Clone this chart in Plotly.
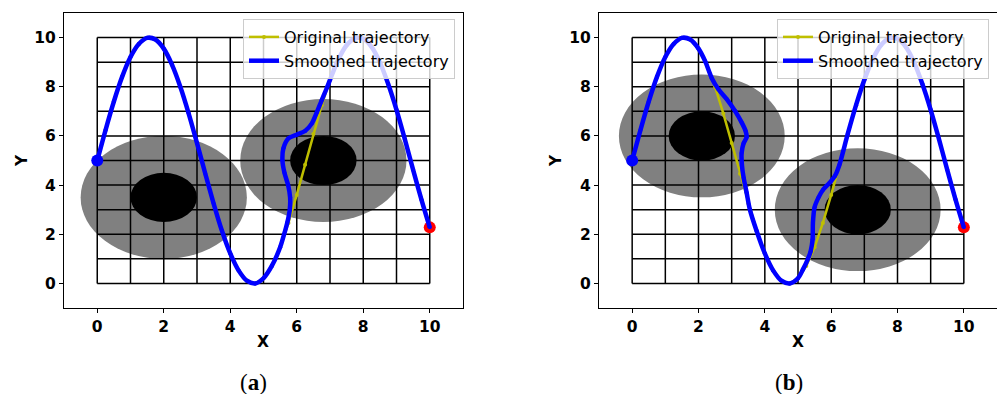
import plotly.graph_objects as go

# ---- data -------------------------------------------------------------
# planned path (same for both panels)
orig_x = [0.0, 0.25, 0.5, 0.75, 1.0, 1.25, 1.5, 1.75, 2.0, 2.25, 2.5, 2.75, 3.0,
          3.25, 3.5, 3.75, 4.0, 4.25, 4.5, 4.75, 5.0, 5.25, 5.5, 5.75, 6.0, 6.25,
          6.5, 6.75, 7.0, 7.25, 7.5, 7.75, 8.0, 8.25, 8.5, 8.75, 9.0, 9.25, 9.5,
          9.75, 10.0]
orig_y = [5.0, 6.24, 7.4, 8.41, 9.21, 9.74, 9.99, 9.92, 9.55, 8.89, 7.99, 6.91, 5.71,
          4.46, 3.25, 2.14, 1.22, 0.53, 0.11, 0.0, 0.21, 0.71, 1.47, 2.46, 3.6, 4.83,
          6.08, 7.25, 8.28, 9.11, 9.69, 9.97, 9.95, 9.62, 8.99, 8.11, 7.06, 5.87, 4.62,
          3.41, 2.28]

# smoothed path, panel (a)
smooth_a_x = [0.0, 0.25, 0.5, 0.75, 1.0, 1.25, 1.5, 1.75, 2.0, 2.25, 2.5, 2.75, 3.0,
              3.25, 3.5, 3.75, 4.0, 4.25, 4.5, 4.75, 5.0, 5.25, 5.5, 5.62, 5.72, 5.79,
              5.8, 5.74, 5.63, 5.57, 5.6, 5.75, 6.0, 6.25, 6.45, 6.6, 6.75, 6.92, 7.0,
              7.25, 7.5, 7.75, 8.0, 8.25, 8.5, 8.75, 9.0, 9.25, 9.5, 9.75, 10.0]
smooth_a_y = [5.0, 6.24, 7.4, 8.41, 9.21, 9.74, 9.99, 9.92, 9.55, 8.89, 7.99, 6.91, 5.71,
              4.46, 3.25, 2.14, 1.22, 0.53, 0.11, 0.0, 0.21, 0.71, 1.47, 2.0, 2.5, 3.0,
              3.5, 4.0, 4.5, 5.0, 5.5, 5.9, 6.05, 6.2, 6.5, 6.95, 7.45, 8.0, 8.28,
              9.11, 9.69, 9.97, 9.95, 9.62, 8.99, 8.11, 7.06, 5.87, 4.62, 3.41, 2.28]

# smoothed path, panel (b)
smooth_b_x = [0.0, 0.25, 0.5, 0.75, 1.0, 1.25, 1.5, 1.75, 2.0, 2.2, 2.4, 2.6, 2.85,
              3.1, 3.3, 3.42, 3.45, 3.36, 3.3, 3.31, 3.36, 3.45, 3.55, 3.75, 4.0, 4.25,
              4.5, 4.75, 5.0, 5.15, 5.3, 5.38, 5.44, 5.45, 5.5, 5.62, 5.75, 5.95, 6.11,
              6.25, 6.5, 6.75, 7.0, 7.25, 7.5, 7.75, 8.0, 8.25, 8.5, 8.75, 9.0, 9.25,
              9.5, 9.75, 10.0]
smooth_b_y = [5.0, 6.24, 7.4, 8.41, 9.21, 9.74, 9.99, 9.92, 9.55, 9.04, 8.35, 7.9, 7.5,
              7.02, 6.55, 6.2, 5.95, 5.7, 5.3, 4.8, 4.3, 3.7, 3.0, 2.14, 1.22, 0.53,
              0.11, 0.0, 0.21, 0.57, 1.0, 1.3, 1.8, 2.47, 3.1, 3.5, 3.8, 4.09, 4.36,
              4.83, 6.08, 7.25, 8.28, 9.11, 9.69, 9.97, 9.95, 9.62, 8.99, 8.11, 7.06, 5.87,
              4.62, 3.41, 2.28]

# obstacles: centre x, centre y (inner core radius / outer safety radius)
obst_a_cx = [2.0, 6.8]
obst_a_cy = [3.5, 5.0]
obst_b_cx = [2.1, 6.8]
obst_b_cy = [6.0, 3.0]
core_r = 1.0
zone_r = 2.5

grid_vals = list(range(0, 11))
tick_vals = [0, 2, 4, 6, 8, 10]
start_pt = (0.0, 5.0)
goal_pt = (10.0, 2.28)

# ---- figure -----------------------------------------------------------
W, H = 997, 394


def px(x):
    return x / W


def py(y):
    return 1 - y / H


fig = go.Figure()

panels = [
    dict(xa="x", ya="y", cx=obst_a_cx, cy=obst_a_cy, sx=smooth_a_x, sy=smooth_a_y,
         legend="legend"),
    dict(xa="x2", ya="y2", cx=obst_b_cx, cy=obst_b_cy, sx=smooth_b_x, sy=smooth_b_y,
         legend="legend2"),
]

shapes = []
for p in panels:
    # outer (grey) zones
    for cx, cy in zip(p["cx"], p["cy"]):
        shapes.append(dict(type="circle", xref=p["xa"], yref=p["ya"],
                           x0=cx - zone_r, x1=cx + zone_r, y0=cy - zone_r, y1=cy + zone_r,
                           fillcolor="#808080", line=dict(width=0), layer="below"))
    # map grid
    for g in grid_vals:
        shapes.append(dict(type="line", xref=p["xa"], yref=p["ya"], x0=g, x1=g,
                           y0=grid_vals[0], y1=grid_vals[-1],
                           line=dict(color="black", width=1.5), layer="below"))
        shapes.append(dict(type="line", xref=p["xa"], yref=p["ya"], y0=g, y1=g,
                           x0=grid_vals[0], x1=grid_vals[-1],
                           line=dict(color="black", width=1.5), layer="below"))
    # obstacle cores
    for cx, cy in zip(p["cx"], p["cy"]):
        shapes.append(dict(type="circle", xref=p["xa"], yref=p["ya"],
                           x0=cx - core_r, x1=cx + core_r, y0=cy - core_r, y1=cy + core_r,
                           fillcolor="black", line=dict(width=0), layer="below"))

    fig.add_trace(go.Scatter(x=orig_x, y=orig_y, xaxis=p["xa"], yaxis=p["ya"],
                             mode="lines+markers", name="Original trajectory",
                             line=dict(color="#bfbf00", width=2.5),
                             marker=dict(size=4, color="#bfbf00"),
                             legend=p["legend"]))
    fig.add_trace(go.Scatter(x=[goal_pt[0]], y=[goal_pt[1]], xaxis=p["xa"], yaxis=p["ya"],
                             mode="markers", showlegend=False,
                             marker=dict(size=12, color="red")))
    fig.add_trace(go.Scatter(x=p["sx"], y=p["sy"], xaxis=p["xa"], yaxis=p["ya"],
                             mode="lines+markers", name="Smoothed trajectory",
                             line=dict(color="blue", width=4.5, shape="spline", smoothing=0.8),
                             marker=dict(size=4, color="blue"),
                             legend=p["legend"]))
    fig.add_trace(go.Scatter(x=[start_pt[0]], y=[start_pt[1]], xaxis=p["xa"], yaxis=p["ya"],
                             mode="markers", showlegend=False,
                             marker=dict(size=12, color="blue")))

axis_common = dict(range=[-1, 11], tickvals=tick_vals, showgrid=False, zeroline=False,
                   showline=True, mirror=True, linecolor="black", linewidth=1,
                   ticks="outside", ticklen=4, tickwidth=1, tickcolor="black",
                   tickfont=dict(family="DejaVu Sans", size=15.5, color="black", weight="bold"))

top, bottom = 13, 308
legend_style = dict(xanchor="right", yanchor="top",
                    bgcolor="rgba(255,255,255,0.8)", bordercolor="#cccccc", borderwidth=1,
                    font=dict(family="DejaVu Sans", size=16, color="black"),
                    tracegroupgap=0, itemwidth=30)
fig.update_layout(
    width=W, height=H, margin=dict(l=0, r=0, t=0, b=0),
    paper_bgcolor="white", plot_bgcolor="white",
    xaxis=dict(domain=[px(64), px(463)], anchor="y", **axis_common),
    yaxis=dict(domain=[py(bottom), py(top)], anchor="x", **axis_common),
    xaxis2=dict(domain=[px(599), 1.0], anchor="y2", **axis_common),
    yaxis2=dict(domain=[py(bottom), py(top)], anchor="x2", **axis_common),
    shapes=shapes,
    legend=dict(x=px(455), y=py(19), **legend_style),
    legend2=dict(x=px(989), y=py(19), **legend_style),
)

ann = []
for xl, yl, cap, capx in [(263, 22, "(<b>a</b>)", 254), (798, 556, "(<b>b</b>)", 789)]:
    ann.append(dict(text="X", x=px(xl), y=py(342), xref="paper", yref="paper",
                    showarrow=False, xanchor="center", yanchor="middle",
                    font=dict(family="DejaVu Sans", size=15.5, color="black", weight="bold")))
    ann.append(dict(text="Y", x=px(yl), y=py(161), xref="paper", yref="paper",
                    showarrow=False, xanchor="center", yanchor="middle", textangle=-90,
                    font=dict(family="DejaVu Sans", size=15.5, color="black", weight="bold")))
    ann.append(dict(text=cap, x=px(capx), y=py(382), xref="paper", yref="paper",
                    showarrow=False, xanchor="center", yanchor="middle",
                    font=dict(family="Liberation Serif", size=23, color="black")))
fig.update_layout(annotations=ann)

fig.write_html("out.html")
